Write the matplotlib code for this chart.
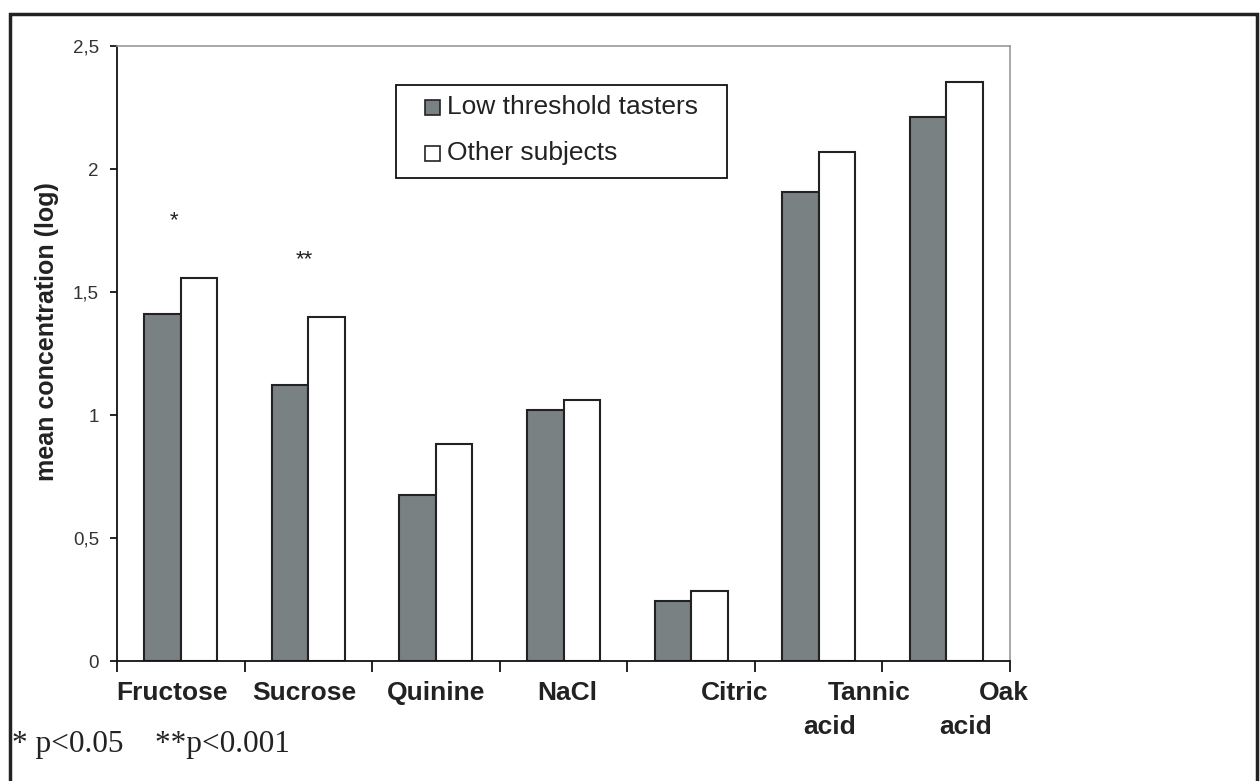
"""
# Bar chart of mean taste threshold concentrations (log) for two groups of subjects
"""

### Packages
import matplotlib.pyplot as plt
from matplotlib.patches import Rectangle
from matplotlib.ticker import FuncFormatter

### Data
categories = ["Fructose", "Sucrose", "Quinine", "NaCl", "Citric", "Tannic\nacid", "Oak\nacid"]
low_threshold = [1.41, 1.12, 0.675, 1.02, 0.242, 1.907, 2.213]
other_subjects = [1.558, 1.397, 0.882, 1.062, 0.283, 2.068, 2.352]
series_names = ["Low threshold tasters", "Other subjects"]
stars = ["*", "**", "", "", "", "", ""]
y_ticks = [0, 0.5, 1, 1.5, 2, 2.5]

### Layout (label lines are shifted a bit from the group centres, like the original)
line_offsets = [[-0.07], [-0.03], [0.0], [0.03], [0.34], [0.40, 0.09], [0.45, 0.15]]
star_offsets = [-0.05, -0.03, 0, 0, 0, 0, 0]
star_heights = [1.79, 1.63, 0, 0, 0, 0, 0]

W, H = 1260, 781
dark = "#798182"
edge = "#222222"
plt.rcParams['font.family'] = ["Liberation Sans", "DejaVu Sans"]

# Helper: pixel position -> figure fraction
def fx(px):
    return px / W

def fy(py):
    return 1 - py / H

fig = plt.figure(figsize=(W / 100, H / 100), dpi=100)
ax = fig.add_axes([fx(117), fy(661), 893 / W, 615 / H])

# Bars
width = 0.286
x = list(range(len(categories)))
ax.bar([i - width / 2 for i in x], low_threshold, width, color=dark, edgecolor=edge, linewidth=1.5)
ax.bar([i + width / 2 for i in x], other_subjects, width, color="white", edgecolor=edge, linewidth=1.5)

# Axes and ticks
ax.set_xlim(-0.5, len(categories) - 0.5)
ax.set_ylim(0, 2.5)
ax.set_yticks(y_ticks)
ax.yaxis.set_major_formatter(FuncFormatter(lambda v, p: ("%g" % v).replace(".", ",")))
ax.set_xticks([i - 0.5 for i in range(len(categories) + 1)])
ax.set_xticklabels([])
ax.tick_params(axis="y", direction="out", length=5, width=1.2, pad=8, labelsize=13.5, labelcolor="#333333")
ax.tick_params(axis="x", direction="out", length=8, width=1.2)
for side in ["left", "bottom"]:
    ax.spines[side].set_color("#111111")
    ax.spines[side].set_linewidth(1.3)
for side in ["top", "right"]:
    ax.spines[side].set_color("#999999")
    ax.spines[side].set_linewidth(1.2)

# Category labels (drawn as text, one line at a time)
for i, name in enumerate(categories):
    for j, line in enumerate(name.split("\n")):
        ax.text(i + line_offsets[i][j], -0.033 - j * 0.055, line, transform=ax.get_xaxis_transform(),
                ha="center", va="top", fontsize=19, fontweight="bold", color="#222222")

# Significance stars
for i, s in enumerate(stars):
    if s:
        ax.text(i + star_offsets[i], star_heights[i], s, ha="center", va="center", fontsize=16, color="#222222")

# Y label
ax.text(-0.078, 0.535, "mean concentration (log)", transform=ax.transAxes, rotation=90,
        ha="center", va="center", fontsize=18, fontweight="bold", color="#222222")

# Legend (drawn by hand to get the wide left padding of the original)
fig.patches.append(Rectangle((fx(396), fy(178)), (727 - 396) / W, (178 - 85) / H, transform=fig.transFigure,
                             facecolor="white", edgecolor="#111111", linewidth=1.3, zorder=5))
for k, (name, color) in enumerate(zip(series_names, [dark, "white"])):
    yc = 107 + k * 46
    fig.patches.append(Rectangle((fx(425), fy(yc + 7.5)), 15 / W, 15 / H, transform=fig.transFigure,
                                 facecolor=color, edgecolor=edge, linewidth=1.2, zorder=6))
    fig.text(fx(447), fy(yc), name, ha="left", va="center", fontsize=19, color="#222222", zorder=6)

# Footnote
fig.text(fx(12), fy(752), "* p<0.05    **p<0.001", fontsize=22.5, color="#222222",
         family=["Liberation Serif", "DejaVu Serif"], ha="left", va="baseline")

# Outer frame
fig.patches.append(Rectangle((fx(10), -0.1), 1247 / W, 1.1 - 14 / H, transform=fig.transFigure,
                             fill=False, edgecolor="#222222", linewidth=2.5))

fig.savefig("out.png", format="png")
